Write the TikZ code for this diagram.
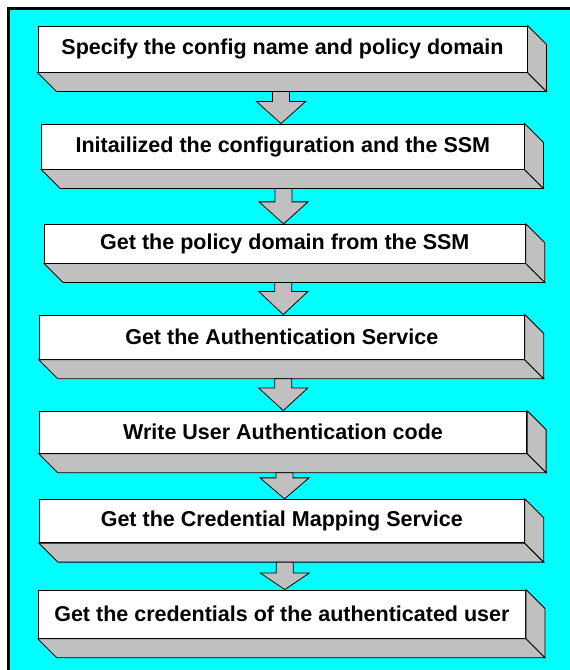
\documentclass[tikz,border=0pt]{standalone}
\usepackage{fontspec}
\setmainfont{Liberation Sans}
\usetikzlibrary{calc}
\definecolor{bgcyan}{HTML}{00FFFF}
\definecolor{sidegray}{HTML}{C0C0C0}
\tikzset{
  stepbox/.style={draw=black, fill=white, line width=0.9pt, inner sep=0pt,
    font=\fontsize{21.5}{24}\selectfont\bfseries, text=black},
  sideface/.style={draw=black, fill=sidegray, line width=0.9pt, line join=miter},
  flowarrow/.style={draw=black, fill=sidegray, line width=0.8pt, line join=miter},
}
\newcommand\extrude[1]{%
  \draw[sideface] (#1.south west) -- (#1.south east) -- ($(#1.south east)+(19,19)$) -- ($(#1.south west)+(19,19)$) -- cycle;
  \draw[sideface] (#1.north east) -- ($(#1.north east)+(19,19)$) -- ($(#1.south east)+(19,19)$) -- (#1.south east) -- cycle;
}
\newcommand\flowarr[4]{%
  \coordinate (s#1) at ($(#1.south)+(#3,19)$);
  \coordinate (t#1) at (s#1 |- #2.north);
  \draw[flowarrow] ($(s#1)+(-8.5,0)$) -- ($(s#1)+(8.5,0)$) -- ($(t#1)+(8.5,-#4)$) -- ($(t#1)+(24.5,-#4)$) -- (t#1) -- ($(t#1)+(-24.5,-#4)$) -- ($(t#1)+(-8.5,-#4)$) -- cycle;
}
\begin{document}
\begin{tikzpicture}[x=1pt,y=-1pt]
\useasboundingbox (0,0) rectangle (570,670);
\fill[white] (0,0) rectangle (570,670);
\fill[bgcyan] (8.7,8.7) rectangle (570,670);
\draw[line width=2.7pt, line join=miter] (8.7,670) -- (8.7,8.7) -- (570,8.7);

\node[stepbox, minimum width=489pt, minimum height=46pt] (b1) at (282.5,49) {Specify the config name and policy domain};
\node[stepbox, minimum width=482.3pt, minimum height=45pt] (b2) at (282.85,146.5) {Initailized the configuration and the SSM};
\node[stepbox, minimum width=481pt, minimum height=38.7pt] (b3) at (284.8,243.65) {Get the policy domain from the SSM};
\node[stepbox, minimum width=485pt, minimum height=44.3pt] (b4) at (281.8,337.15) {Get the Authentication Service};
\node[stepbox, minimum width=487.4pt, minimum height=42.3pt] (b5) at (283,432.15) {Write User Authentication code};
\node[stepbox, minimum width=485pt, minimum height=43.4pt] (b6) at (281.8,521) {Get the Credential Mapping Service};
\node[stepbox, minimum width=487.2pt, minimum height=48.3pt] (b7) at (281.9,614.15) {Get the credentials of the authenticated user};

\extrude{b1}
\extrude{b2}
\extrude{b3}
\extrude{b4}
\extrude{b5}
\extrude{b6}
\extrude{b7}

\flowarr{b1}{b2}{-1.5}{22}
\flowarr{b2}{b3}{0.7}{22}
\flowarr{b3}{b4}{-1.5}{23}
\flowarr{b4}{b5}{1.5}{22.5}
\flowarr{b5}{b6}{1.5}{21}
\flowarr{b6}{b7}{3}{16.5}
\end{tikzpicture}
\end{document}
